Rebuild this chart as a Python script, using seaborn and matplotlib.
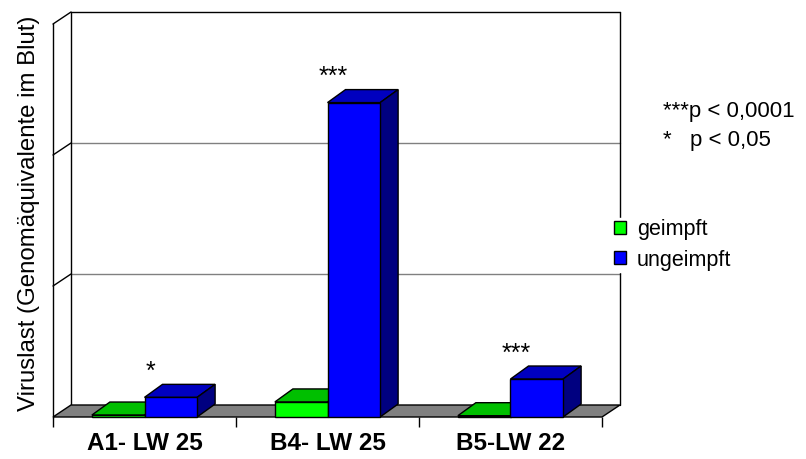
import numpy as np
import pandas as pd
import matplotlib
matplotlib.use('Agg')
import matplotlib.pyplot as plt
from matplotlib.patches import Polygon, Patch, Rectangle
from matplotlib.colors import to_rgb
import seaborn as sns

# values (arbitrary units, one gridline = 1)
categories = ['A1- LW 25', 'B4- LW 25', 'B5-LW 22']
groups = ['geimpft', 'ungeimpft']
geimpft = [0.015, 0.115, 0.01]
ungeimpft = [0.15, 2.40, 0.29]
stars = ['*', '***', '***']
notes = ['***p < 0,0001', '*   p < 0,05']
colors = {'geimpft': '#00FF00', 'ungeimpft': '#0000FF'}

df = pd.DataFrame({
  'Kategorie': categories * 2,
  'Gruppe': ['geimpft'] * 3 + ['ungeimpft'] * 3,
  'Wert': geimpft + ungeimpft,
})

sns.set_style('white')
plt.rcParams['font.family'] = ['Liberation Sans', 'DejaVu Sans']
plt.rcParams['text.color'] = 'black'
plt.rcParams['axes.labelcolor'] = 'black'
plt.rcParams['xtick.color'] = 'black'

W, H = 806, 459
fig = plt.figure(figsize=(W / 100, H / 100), dpi=100)
ax = fig.add_axes([53 / W, 1 - 417 / H, 549 / W, 393 / H])

sns.barplot(data=df, x='Kategorie', y='Wert', hue='Gruppe', palette=colors,
            width=0.575, edgecolor='black', linewidth=1, ax=ax, legend=False,
            saturation=1, errorbar=None)
ax.set_xlim(-0.5, 2.5)
ax.set_ylim(0, 3)
bars = sorted([p for p in ax.patches if isinstance(p, Rectangle)], key=lambda p: p.get_x())

# depth offsets in data units
xpx = 549 / 3
ypx = 393 / 3
dxf, dyf = 18 / xpx, 12 / ypx   # floor / walls
dxb, dyb = 18 / xpx, 13 / ypx   # bars

# back wall, side wall and floor
for k in [1, 2]:
  ax.plot([-0.5 + dxf, 2.5 + dxf], [k + dyf, k + dyf], color='#808080', lw=1,
          clip_on=False, zorder=1)
for k in [1, 2, 3]:
  ax.plot([-0.5, -0.5 + dxf], [k, k + dyf], color='black', lw=1, clip_on=False, zorder=1)
ax.plot([-0.5 + dxf, 2.5 + dxf], [3 + dyf, 3 + dyf], color='black', lw=1, clip_on=False, zorder=1)
ax.plot([-0.5 + dxf, -0.5 + dxf], [dyf, 3 + dyf], color='black', lw=1, clip_on=False, zorder=1)
ax.plot([2.5 + dxf, 2.5 + dxf], [dyf, 3 + dyf], color='black', lw=1, clip_on=False, zorder=1)
floor = Polygon([(-0.5, 0), (2.5, 0), (2.5 + dxf, dyf), (-0.5 + dxf, dyf)],
                closed=True, facecolor='#808080', edgecolor='black', lw=1,
                clip_on=False, zorder=2)
ax.add_patch(floor)

# 3D top and side of each bar
for i, p in enumerate(bars):
  x0, w, h = p.get_x(), p.get_width(), p.get_height()
  c = np.array(to_rgb(p.get_facecolor()))
  top = Polygon([(x0, h), (x0 + w, h), (x0 + w + dxb, h + dyb), (x0 + dxb, h + dyb)],
                closed=True, facecolor=c * 0.75, edgecolor='black', lw=1,
                clip_on=False, zorder=3 + 2 * i)
  side = Polygon([(x0 + w, 0), (x0 + w + dxb, dyb), (x0 + w + dxb, h + dyb), (x0 + w, h)],
                 closed=True, facecolor=c * 0.5, edgecolor='black', lw=1,
                 clip_on=False, zorder=3 + 2 * i)
  ax.add_patch(top)
  ax.add_patch(side)
  p.set_zorder(4 + 2 * i)
  p.set_clip_on(False)

for i, s in enumerate(stars):
  ax.text(i + 0.03, ungeimpft[i] + 0.14, s, ha='center', va='baseline',
          fontsize=18, zorder=30)

sns.despine(ax=ax, top=True, right=True, bottom=True, left=False)
ax.spines['left'].set_color('black')
ax.spines['left'].set_linewidth(1)
ax.set_yticks([])
ax.set_xticks([0, 1, 2])
ax.set_xticklabels(categories, fontsize=17.5, fontweight='bold')
ax.set_xticks([-0.5, 0.5, 1.5, 2.5], minor=True)
ax.tick_params(axis='x', which='major', length=0, pad=11)
ax.tick_params(axis='x', which='minor', length=7, width=1, color='black',
               direction='out', bottom=True)
ax.set_xlabel('')
ax.set_ylabel('Viruslast (Genomäquivalente im Blut)', fontsize=17.3)
ax.yaxis.set_label_coords(-13 / 549, (417 - 213) / 393)

handles = [Patch(facecolor=colors[g], edgecolor='black', lw=1, label=g) for g in groups]
leg = fig.legend(handles=handles, loc='upper left', bbox_to_anchor=(613 / W, 1 - 218 / H),
                 fontsize=15.5, frameon=True, fancybox=False, framealpha=1,
                 edgecolor='white', facecolor='white', borderpad=0.05,
                 handlelength=0.55, handleheight=0.55, handletextpad=0.5,
                 labelspacing=0.44, borderaxespad=0)

fig.text(663 / W, 1 - 117 / H, notes[0], fontsize=16, va='baseline')
fig.text(663 / W, 1 - 146 / H, notes[1], fontsize=16, va='baseline')

fig.savefig('out.png', dpi=100)
